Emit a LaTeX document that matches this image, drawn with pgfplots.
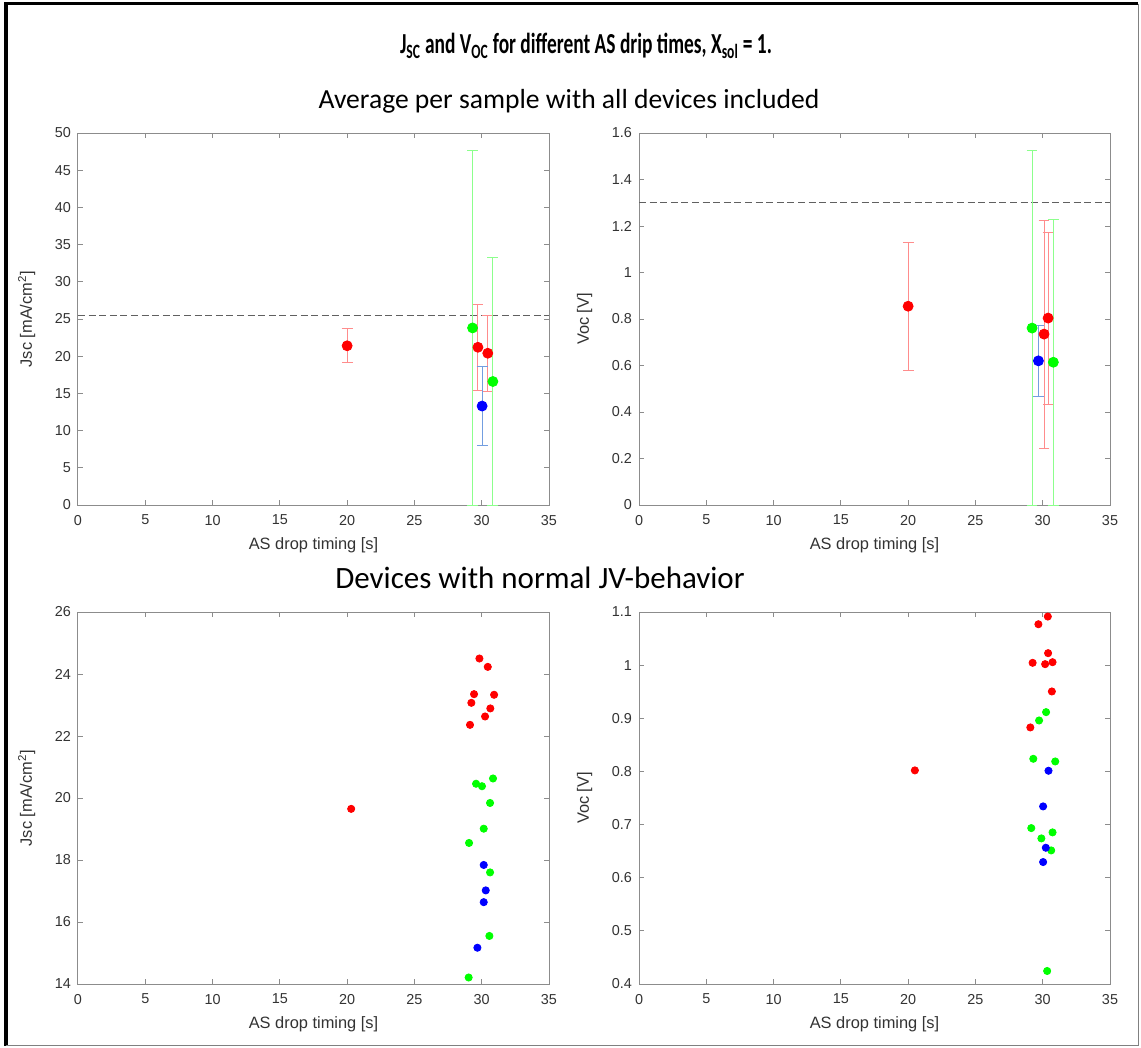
\documentclass[border=0pt]{standalone}
\usepackage{pgfplots}
\pgfplotsset{compat=1.18}
\usepackage{fontspec}
\setmainfont{Carlito}
\newfontfamily\arialf{Liberation Sans}
\definecolor{axgray}{gray}{0.55}
\definecolor{txtgray}{gray}{0.2}
\definecolor{ered}{rgb}{1,0.55,0.55}
\definecolor{egreen}{rgb}{0.55,1,0.55}
\definecolor{eblue}{rgb}{0.45,0.62,0.88}
\pgfplotsset{
  myax/.style={
    scale only axis, width=235.5pt, height=186pt,
    anchor=south west,
    xmin=0, xmax=35, xtick={0,5,...,35},
    axis line style={axgray, line width=0.5pt},
    every tick/.style={axgray, line width=0.5pt},
    major tick length=2.6pt,
    tick align=inside,
    /pgf/number format/assume math mode=true,
    ticklabel style={font=\arialf\fontsize{7.2}{8}\selectfont, text=txtgray},
    label style={font=\arialf\fontsize{8.2}{9}\selectfont, text=txtgray},
    xlabel={AS drop timing [s]},
    xlabel style={yshift=0.5pt},
    ylabel style={yshift=3pt},
    xticklabel style={yshift=-1.5pt},
    yticklabel style={xshift=0pt},
  },
  bigdot/.style={only marks, mark=*, mark size=2.5pt},
  smalldot/.style={only marks, mark=*, mark size=1.8pt},
  ebar/.style={error bars/.cd, y dir=both, y explicit,
    error mark=-,
    error bar style={#1, line width=0.5pt},
    error mark options={rotate=90, #1, line width=0.5pt, mark size=2.7pt}},
  refline/.style={dash pattern=on 3.5pt off 1.8pt, gray!75!black, line width=0.6pt},
}
\begin{document}
\begin{tikzpicture}
\fill[white] (0pt,0pt) rectangle (570.5pt,-524pt);
\draw[black, line width=1.6pt] (3pt,-522.8pt) -- (3pt,-1.8pt) -- (569.2pt,-1.8pt);
\draw[gray, line width=0.8pt] (569.2pt,-1.8pt) -- (569.2pt,-522.8pt) -- (3pt,-522.8pt);
\node[font=\bfseries\fontsize{14.5}{16}\selectfont] at (293pt,-23pt)
  {\scalebox{0.67}[1]{J\textsubscript{SC} and V\textsubscript{OC} for different AS drip times, X\textsubscript{sol} = 1.}};
\node[font=\fontsize{13.8}{15}\selectfont] at (284.5pt,-50.5pt) {Average per sample with all devices included};
\node[font=\fontsize{15.5}{17}\selectfont] at (270pt,-289pt) {Devices with normal JV-behavior};

% top left
\begin{axis}[myax, at={(39pt,-252.5pt)}, ymin=0, ymax=50, ytick={0,5,...,50},
  ylabel={Jsc [mA/cm\textsuperscript{2}]}]
\addplot[refline] coordinates {(0,25.45) (35,25.45)};
\addplot[bigdot, red, ebar=ered] table[x=x, y=y, y error=e] {
x y e
20 21.4 2.3
29.72 21.2 5.8
30.45 20.4 5.1
};
\addplot[bigdot, green, ebar=egreen] table[x=x, y=y, y error=e] {
x y e
29.32 23.8 23.9
30.83 16.6 16.6
};
\addplot[bigdot, blue, ebar=eblue] table[x=x, y=y, y error=e] {
x y e
30.03 13.3 5.3
};
\end{axis}

% top right
\begin{axis}[myax, at={(319.5pt,-252.5pt)}, ymin=0, ymax=1.6, ytick={0,0.2,...,1.6},
  ylabel={Voc [V]}]
\addplot[refline] coordinates {(0,1.3) (35,1.3)};
\addplot[bigdot, red, ebar=ered] table[x=x, y=y, y error=e] {
x y e
20 0.855 0.275
30.10 0.735 0.49
30.40 0.804 0.37
};
\addplot[bigdot, green, ebar=egreen] table[x=x, y=y, y error=e] {
x y e
29.21 0.761 0.762
30.79 0.614 0.614
};
\addplot[bigdot, blue, ebar=eblue] table[x=x, y=y, y error=e] {
x y e
29.68 0.620 0.152
};
\end{axis}

% bottom left
\begin{axis}[myax, at={(39pt,-492pt)}, ymin=14, ymax=26, ytick={14,16,...,26},
  ylabel={Jsc [mA/cm\textsuperscript{2}]}]
\addplot[smalldot, red] table {
20.3 19.65
29.83 24.50
30.45 24.23
29.43 23.35
30.92 23.33
29.23 23.07
30.64 22.89
30.25 22.63
29.13 22.36
};
\addplot[smalldot, green] table {
30.84 20.63
29.58 20.46
30.02 20.38
30.62 19.84
30.15 19.01
29.06 18.55
30.62 17.60
30.57 15.55
29.03 14.21
};
\addplot[smalldot, blue] table {
30.15 17.84
30.30 17.02
30.15 16.64
29.68 15.17
};
\end{axis}

% bottom right
\begin{axis}[myax, at={(319.5pt,-492pt)}, ymin=0.4, ymax=1.1, ytick={0.4,0.5,...,1.1},
  ylabel={Voc [V]}]
\addplot[smalldot, red] table {
20.5 0.802
30.38 1.0915
29.68 1.077
30.40 1.0226
29.25 1.0044
30.18 1.0019
30.73 1.0056
30.68 0.9505
29.08 0.8828
};
\addplot[smalldot, green] table {
30.25 0.9116
29.73 0.8959
29.30 0.8238
30.93 0.8188
29.15 0.6934
30.73 0.6853
29.90 0.6740
30.63 0.6514
30.33 0.4245
};
\addplot[smalldot, blue] table {
30.43 0.8013
30.03 0.7342
30.23 0.6564
30.03 0.6295
};
\end{axis}
\end{tikzpicture}
\end{document}
